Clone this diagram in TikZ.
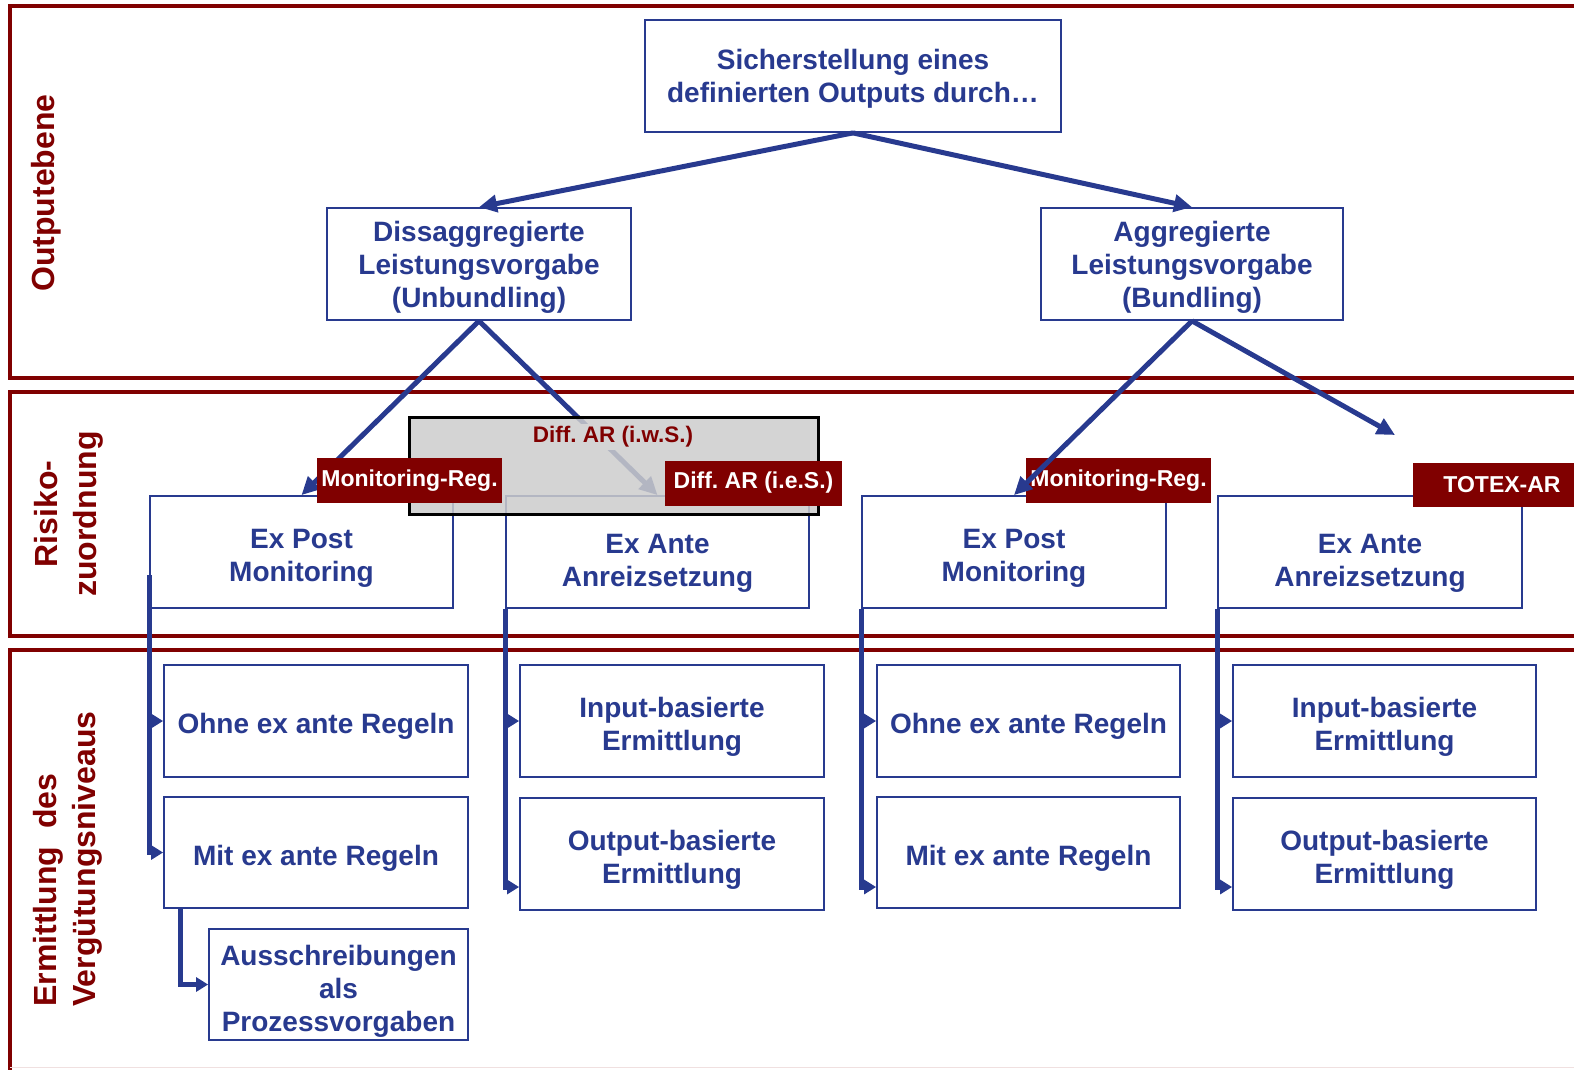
\documentclass[tikz,border=0pt]{standalone}
\usepackage{fontspec}
\setmainfont{Liberation Sans}
\usetikzlibrary{arrows.meta,calc}
\definecolor{navy}{HTML}{283A8F}
\definecolor{dred}{HTML}{800000}
\newcommand{\lowr}[2][6pt]{\raisebox{-#1}[\height][\depth]{\begin{tabular}{@{}c@{}}#2\end{tabular}}}
\frenchspacing
\begin{document}
\begin{tikzpicture}[x=1pt,y=-1pt,
  band/.style={draw=dred,line width=4pt},
  box/.style={draw=navy,line width=1.8pt,fill=white,text=navy,
    font=\fontsize{28}{33}\selectfont\bfseries,inner sep=0pt,
    minimum width=304pt,minimum height=112pt},
  arr/.style={draw=navy,line width=5pt,-{Triangle[length=18pt,width=17pt]}},
  conn/.style={draw=navy,line width=5pt,-{Triangle[length=12pt,width=14pt]}},
  tag/.style={fill=dred,text=white,font=\fontsize{23}{27}\selectfont\bfseries,
    inner sep=0pt,minimum height=45pt},
  side/.style={rotate=90,text=dred,font=\fontsize{32}{39}\selectfont\bfseries}
]
\useasboundingbox (0,0) rectangle (1574,1069);
\clip (0,0) rectangle (1574,1069);

% bands
\draw[band] (1600,6) -| (10,378) -- (1600,378);
\draw[band] (1600,392) -| (10,636) -- (1600,636);
\draw[band] (1600,650) -| (10,1090);
\draw[draw=dred!12,line width=0.8pt] (10,1067.5) -- (1600,1067.5);

% side labels
\node[side] (l1) at (46,193) {Outputebene};
\node[side,align=center] (l2) at (69,514) {Risiko-\\zuordnung};
\node[side,align=left] (l3) at (68,859) {Ermittlung\ \ des\\Vergütungsniveaus};

% level 1 and 2 boxes
\node[box,minimum width=416pt] (top) at (853,76) {\lowr[3pt]{Sicherstellung eines\\definierten Outputs durch…}};
\node[box] (dis) at (479,264) {\lowr[4pt]{Dissaggregierte\\Leistungsvorgabe\\(Unbundling)}};
\node[box,minimum width=302pt] (agg) at (1192,264) {\lowr[4pt]{Aggregierte\\Leistungsvorgabe\\(Bundling)}};

% risk boxes
\node[box,minimum width=303pt] (ep1) at (301.5,552) {\lowr{Ex Post\\Monitoring}};
\node[box,minimum width=303pt] (ea1) at (657.5,552) {\lowr[11pt]{Ex Ante\\Anreizsetzung}};
\node[box] (ep2) at (1014,552) {\lowr{Ex Post\\Monitoring}};
\node[box] (ea2) at (1370,552) {\lowr[11pt]{Ex Ante\\Anreizsetzung}};

% level 3 boxes
\node[box] (ohne1) at (316,721) {\lowr{Ohne ex ante Regeln}};
\node[box,minimum height=111pt] (mit1) at (316,852.5) {\lowr{Mit ex ante Regeln}};
\node[box,minimum width=259pt,minimum height=111pt] (aus) at (338.5,984.5) {\lowr[7pt]{Ausschreibungen\\als\\Prozessvorgaben}};
\node[box] (in1) at (672,721) {\lowr{Input-basierte\\Ermittlung}};
\node[box] (out1) at (672,854) {\lowr{Output-basierte\\Ermittlung}};
\node[box,minimum width=303pt] (ohne2) at (1028.5,721) {\lowr{Ohne ex ante Regeln}};
\node[box,minimum width=303pt,minimum height=111pt] (mit2) at (1028.5,852.5) {\lowr{Mit ex ante Regeln}};
\node[box,minimum width=303pt] (in2) at (1384.5,721) {\lowr{Input-basierte\\Ermittlung}};
\node[box,minimum width=303pt] (out2) at (1384.5,854) {\lowr{Output-basierte\\Ermittlung}};

% main arrows
\draw[arr] (top.south) -- (dis.north);
\draw[arr] (top.south) -- (agg.north);
\draw[arr] (dis.south) -- (ep1.north);
\draw[arr] (dis.south) -- (ea1.north);
\coordinate (totexend) at (1395,435);
\draw[arr] (agg.south) -- (totexend);

% grey overlay
\node[draw=black,line width=3pt,fill=black!20,fill opacity=0.85,
  minimum width=409pt,minimum height=97pt,inner sep=0pt] (gbox) at (613.5,465.5) {};
\node[fill=black!17,text=dred,font=\fontsize{22.5}{26}\selectfont\bfseries,
  inner sep=3pt] (iws) at (613,437) {Diff. AR (i.w.S.)};

% tags
\node[tag,minimum width=185pt] (mr1) at (409.5,480.5) {Monitoring-Reg.};
\node[tag,minimum width=177pt] (ies) at (753.5,483) {Diff. AR (i.e.S.)};
\node[tag,minimum width=185pt] (mr2) at (1118.5,480.5) {Monitoring-Reg.};
\node[tag,minimum width=179pt,minimum height=44pt] (totex) at (1502,485) {TOTEX-AR};

\draw[arr] (agg.south) -- (ep2.north);

% level 3 connectors
\draw[conn] ([yshift=-23pt]ep1.west) |- (ohne1.west);
\draw[conn] ([yshift=-23pt]ep1.west) |- (mit1.west);
\draw[conn] ([xshift=17pt]mit1.south west) |- (aus.west);
\draw[conn] (ea1.south west) |- (in1.west);
\draw[conn] (ea1.south west) |- ([yshift=-33pt]out1.west);
\draw[conn] (ep2.south west) |- (ohne2.west);
\draw[conn] (ep2.south west) |- ([yshift=-34.5pt]mit2.west);
\draw[conn] (ea2.south west) |- (in2.west);
\draw[conn] (ea2.south west) |- ([yshift=-33pt]out2.west);
\end{tikzpicture}
\end{document}
